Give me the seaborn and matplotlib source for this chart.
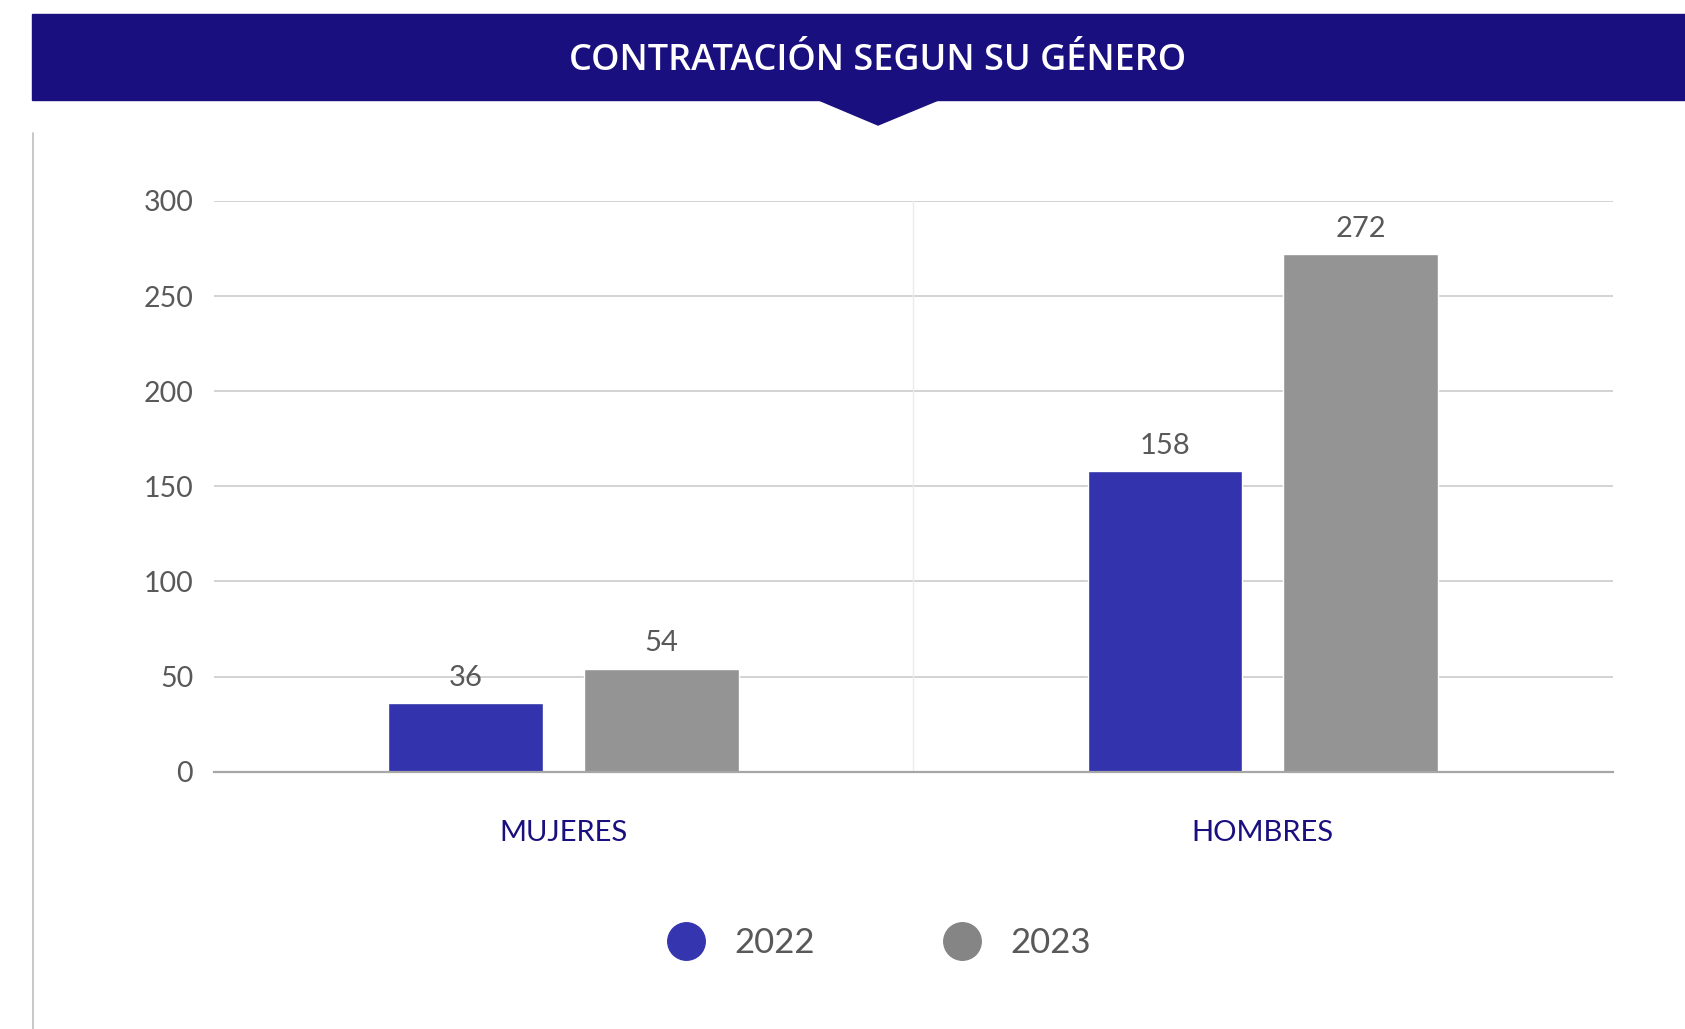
import seaborn as sns
import pandas as pd
import matplotlib.pyplot as plt
from matplotlib.patches import Rectangle, Polygon
from matplotlib.lines import Line2D

categorias = ['MUJERES', 'HOMBRES']
anios = ['2022', '2023']
valores_2022 = [36, 158]
valores_2023 = [54, 272]
colores = {'2022': '#3333AD', '2023': '#949494'}
colores_leyenda = {'2022': '#3535B0', '2023': '#858585'}

df = pd.DataFrame({
    'genero': categorias * 2,
    'anio': ['2022'] * 2 + ['2023'] * 2,
    'valor': valores_2022 + valores_2023,
})

sns.set_style('white')
plt.rcParams['font.family'] = ['Lato', 'DejaVu Sans']

fig = plt.figure(figsize=(16.85, 10.29), dpi=100)
ax = fig.add_axes([0.127, 0.2501, 0.830, 0.5546])

sns.barplot(data=df, x='genero', y='valor', hue='anio', palette=colores,
            width=0.56, gap=0.21, ax=ax, legend=False, saturation=1)

ax.set_ylim(0, 300)
ax.set_xlim(-0.5, 1.5)
ax.set_yticks(range(0, 301, 50))
ax.yaxis.grid(True, color='#D0D0D0', linewidth=1.3)
ax.set_axisbelow(True)
ax.axvline(0.5, color='#EBEBEB', linewidth=1)
for s in ['top', 'right', 'left']:
    ax.spines[s].set_visible(False)
ax.spines['bottom'].set_color('#A6A6A6')
ax.spines['bottom'].set_linewidth(1.6)
ax.tick_params(axis='y', length=0, pad=15, labelsize=20.5, labelcolor='#595959')
ax.tick_params(axis='x', length=0, pad=35, labelsize=21, labelcolor='#1A0F7E')
ax.set_xlabel('')
ax.set_ylabel('')

for cont in ax.containers:
    ax.bar_label(cont, fmt='%.0f', padding=9, fontsize=21, color='#595959')

# franja del titulo
fig.patches.append(Rectangle((0.019, 0.9028), 0.981, 0.0836, transform=fig.transFigure,
                             color='#1A0F7E', zorder=0))
fig.patches.append(Polygon([(0.4849, 0.9035), (0.5579, 0.9035), (0.5211, 0.8785)],
                           closed=True, transform=fig.transFigure, color='#1A0F7E', zorder=0))
fig.text(0.5211, 0.9405, 'CONTRATACIÓN SEGUN SU GÉNERO', color='white', fontsize=26,
         fontweight='semibold', ha='center', va='center', family=['Open Sans', 'DejaVu Sans'])
fig.add_artist(Line2D([0.0196, 0.0196], [0, 0.8707], transform=fig.transFigure,
                      color='#BFBFBF', linewidth=1.2))

handles = [Line2D([], [], marker='o', linestyle='', markersize=27,
                  markerfacecolor=colores_leyenda[a], markeredgecolor=colores_leyenda[a])
           for a in anios]
fig.legend(handles, anios, loc='center', bbox_to_anchor=(0.5211, 0.0835), ncol=2,
           frameon=False, fontsize=25, labelcolor='#595959', columnspacing=3.66,
           handletextpad=0.78, handlelength=1.2)

plt.savefig('out.png', dpi=100)
